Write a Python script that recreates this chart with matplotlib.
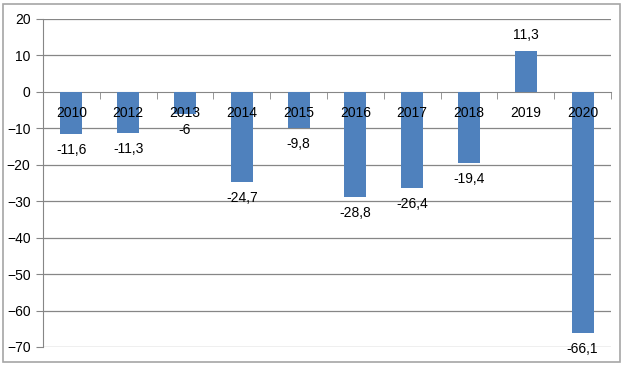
import matplotlib.pyplot as plt
import numpy as np
from matplotlib.patches import Rectangle

years = ["2010", "2012", "2013", "2014", "2015", "2016", "2017", "2018", "2019", "2020"]
values = [-11.6, -11.3, -6, -24.7, -9.8, -28.8, -26.4, -19.4, 11.3, -66.1]
labels = ["-11,6", "-11,3", "-6", "-24,7", "-9,8", "-28,8", "-26,4", "-19,4", "11,3", "-66,1"]

plt.rcParams['font.family'] = ['Liberation Sans', 'DejaVu Sans']
grey = "#868686"

fig = plt.figure(figsize=(6.24, 3.66), dpi=100)
ax = fig.add_axes([43 / 624, 1 - 347 / 366, 568 / 624, 328 / 366])

x = np.arange(len(years))
ax.bar(x, values, width=0.39, color="#4F81BD", zorder=3)

# data labels below negative bars, above positive ones
for xi, v, lab in zip(x, values, labels):
    off = -16 if v < 0 else 16
    ax.annotate(lab, (xi, v), xytext=(0, off), textcoords="offset pixels",
                ha="center", va="center", fontsize=10, color="black", zorder=4)

ax.set_xlim(-0.5, len(years) - 0.5)
ax.set_ylim(-70, 20)
ax.set_yticks(range(-70, 21, 10))
for yv in range(-70, 21, 10):
    if yv != 0:
        ax.axhline(yv, color=grey, linewidth=0.9, zorder=0)

# category axis sits on zero
ax.spines["bottom"].set_position(("data", 0))
for s in ["top", "right"]:
    ax.spines[s].set_visible(False)
ax.spines["bottom"].set_color(grey)
ax.spines["left"].set_color(grey)
ax.spines["bottom"].set_zorder(2)

ax.set_xticks(x)
ax.set_xticklabels(years, fontsize=10)
ax.set_xticks(np.arange(-0.5, len(years), 1), minor=True)
ax.tick_params(axis="x", which="major", length=0, pad=10)
ax.tick_params(axis="x", which="minor", length=5, color=grey, direction="out")
ax.tick_params(axis="y", length=5, color=grey, labelsize=10, pad=4)
ax.xaxis.set_zorder(5)

# outer frame like the spreadsheet chart area
fig.patches.append(Rectangle((3 / 624, 4 / 366), 617 / 624, 358 / 366, transform=fig.transFigure,
                             fill=False, edgecolor="#A6A6A6", linewidth=1.2))

fig.savefig("out.png", dpi=100)
